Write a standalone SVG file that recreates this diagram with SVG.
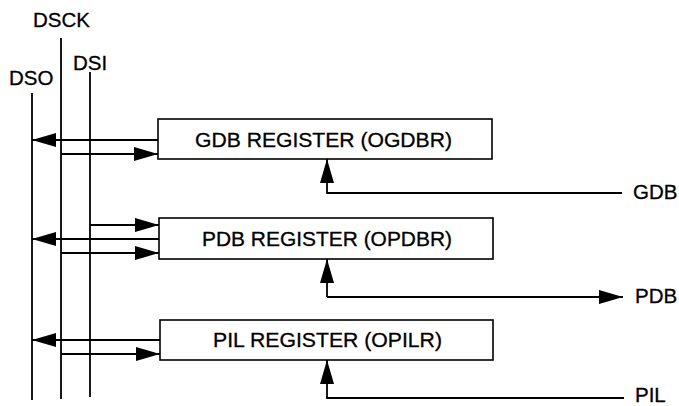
<svg xmlns="http://www.w3.org/2000/svg" width="679" height="406" viewBox="0 0 679 406">
<style>
.ln{stroke:#000;stroke-width:1.8;fill:none}
.box{stroke:#000;stroke-width:1.6;fill:#fff}
.t{font-family:"Liberation Sans",Arial,sans-serif;font-size:20.5px;fill:#000;stroke:#000;stroke-width:0.3}
.arr{marker-end:url(#ah)}
</style>
<defs>
<marker id="ah" markerUnits="userSpaceOnUse" markerWidth="24" markerHeight="14" refX="24" refY="7" orient="auto">
<path d="M0,0 L24,7 L0,14 z" fill="#000"/>
</marker>
</defs>
<rect width="679" height="406" fill="#fff"/>
<g id="bus-dso">
<line class="ln" x1="32" y1="93" x2="32" y2="400"/>
<text class="t" x="9" y="85">DSO</text>
</g>
<g id="bus-dsck">
<line class="ln" x1="61" y1="38" x2="61" y2="399"/>
<text class="t" x="33" y="27">DSCK</text>
</g>
<g id="bus-dsi">
<line class="ln" x1="90" y1="72" x2="90" y2="397"/>
<text class="t" x="73" y="70">DSI</text>
</g>
<g id="ogdbr">
<rect class="box" x="158" y="119" width="334" height="40"/>
<text class="t" x="195" y="147" textLength="257" lengthAdjust="spacingAndGlyphs">GDB REGISTER (OGDBR)</text>
</g>
<g id="opdbr">
<rect class="box" x="159" y="218" width="334" height="41"/>
<text class="t" x="202" y="246" textLength="250" lengthAdjust="spacingAndGlyphs">PDB REGISTER (OPDBR)</text>
</g>
<g id="opilr">
<rect class="box" x="160" y="320" width="333" height="40"/>
<text class="t" x="213" y="347" textLength="229" lengthAdjust="spacingAndGlyphs">PIL REGISTER (OPILR)</text>
</g>
<g id="gdb">
<text class="t" x="633" y="199">GDB</text>
</g>
<g id="pdb">
<text class="t" x="635" y="303">PDB</text>
</g>
<g id="pil">
<text class="t" x="635" y="402">PIL</text>
</g>
<g id="connectors">
<line class="ln arr" x1="158" y1="140" x2="32" y2="140"/>
<line class="ln arr" x1="61" y1="154" x2="158" y2="154"/>
<line class="ln arr" x1="90" y1="225" x2="159" y2="225"/>
<line class="ln arr" x1="159" y1="239" x2="32" y2="239"/>
<line class="ln arr" x1="61" y1="253" x2="159" y2="253"/>
<line class="ln arr" x1="160" y1="340" x2="32" y2="340"/>
<line class="ln arr" x1="61" y1="354" x2="160" y2="354"/>
<polyline class="ln arr" points="622,193 327,193 327,159"/>
<polyline class="ln arr" points="327,297 327,259"/>
<line class="ln arr" x1="327" y1="297" x2="623" y2="297"/>
<polyline class="ln arr" points="624,398 327,398 327,360"/>
</g>
</svg>
